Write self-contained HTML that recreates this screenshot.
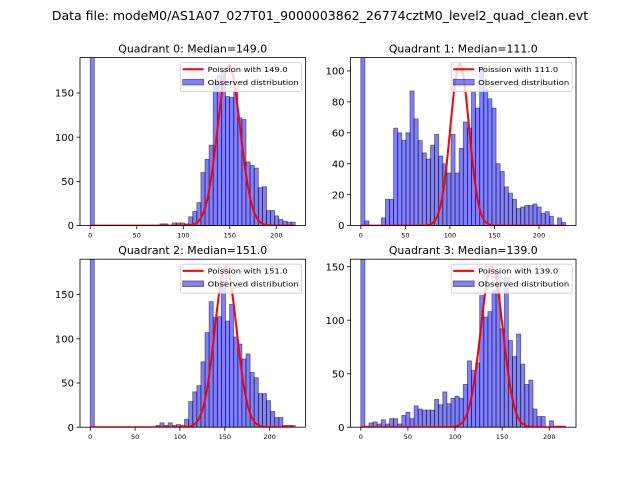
<!DOCTYPE html>
<html><head><meta charset="utf-8"><style>
body{margin:0;background:#fff}
svg{display:block;font-family:"DejaVu Sans","Liberation Sans",sans-serif}
</style></head><body>
<svg id="fig" width="640" height="480" viewBox="0 0 640 480">
<text x="320" y="20" text-anchor="middle" font-size="12.5">Data file: modeM0/AS1A07_027T01_9000003862_26774cztM0_level2_quad_clean.evt</text>
</svg>
<script>
const medians=[149.0,111.0,151.0,139.0];
const binWidths=[4.406,4.6,4.57,4.35];
const counts0=[400,0,0,0,0,0,0,0,0,0,0,0,0,0,0,0,0,2,2,0,3,3,3,2,10,16,26,60,75,91,161,170,175,146,145,155,122,120,72,68,65,43,44,17,17,11,7,5,4,4];
const counts1=[300,3,0,0,0,5,17,17,63,60,55,60,87,69,55,47,43,52,59,45,40,34,59,34,50,67,63,86,76,102,88,82,76,40,35,25,21,17,11,12,13,13,14,12,8,9,6,0,5,2];
const counts2=[400,0,0,0,0,0,0,0,0,0,0,0,0,0,0,0,2,5,2,5,2,3,2,9,29,40,47,74,107,142,124,125,165,120,139,102,94,77,83,62,56,38,38,30,18,11,11,2,2,2];
const counts3=[300,1,4,5,3,7,3,8,8,3,11,14,8,20,17,16,16,16,26,21,33,22,27,29,27,40,62,53,60,123,103,108,128,145,92,140,81,66,87,59,40,44,17,10,10,0,6,1,1,1];
const poissonPeaks=[181,104.5,181,150];
const yMaxes=[190,108.6,190,157];
const yTicks0=[0,50,100,150];
const yTicks1=[0,20,40,60,80,100];
const yTicks2=[0,50,100,150];
const yTicks3=[0,50,100,150];
const xTicks=[0,50,100,150,200];
const allCounts=[counts0,counts1,counts2,counts3];
const allYTicks=[yTicks0,yTicks1,yTicks2,yTicks3];

const NS="http://www.w3.org/2000/svg";
const svg=document.getElementById('fig');
function mk(tag,attrs,parent){const e=document.createElementNS(NS,tag);for(const k in attrs)e.setAttribute(k,attrs[k]);(parent||svg).appendChild(e);return e;}
const W=225.45,H=168;
const boxes=[[80,57.6],[350.55,57.6],[80,259.2],[350.55,259.2]];
for(let q=0;q<4;q++){
  const [L,T]=boxes[q];
  const c=allCounts[q],bw=binWidths[q],R=c.length*bw;
  const x0=-0.05*R,x1=1.05*R,ymax=yMaxes[q];
  const X=v=>L+(v-x0)/(x1-x0)*W;
  const Y=v=>T+H-v/ymax*H;
  const g=mk('g',{});
  
  
  const cp=mk('clipPath',{id:'cp'+q},g);
  mk('rect',{x:L,y:T,width:W,height:H},cp);
  const bars=mk('g',{'clip-path':'url(#cp'+q+')'},g);
  c.forEach((v,i)=>{
    if(v<=0)return;
    const r=mk('rect',{x:X(i*bw),y:Y(v),width:X((i+1)*bw)-X(i*bw),height:Y(0)-Y(v),fill:'rgba(0,0,255,0.5)',stroke:'rgba(0,0,0,0.5)','stroke-width':0.8},bars);
    
    
  });
  const lam=medians[q],pk=poissonPeaks[q],sd=Math.sqrt(lam);
  let d='';const xe=R-1;
  for(let x=0;x<=xe;x+=1){const v=pk*Math.exp(-(x-lam)*(x-lam)/(2*sd*sd));d+=(x?'L':'M')+X(x).toFixed(2)+','+Y(v).toFixed(2);}
  const pl=mk('path',{d:d,fill:'none',stroke:'#ff0000','stroke-width':2,'clip-path':'url(#cp'+q+')'},g);
  
  
  mk('rect',{x:L,y:T,width:W,height:H,fill:'none',stroke:'#000','stroke-width':0.8},g);
  xTicks.forEach(t=>{
    mk('line',{x1:X(t),x2:X(t),y1:T+H,y2:T+H+3.5,stroke:'#000','stroke-width':0.8},g);
    const tx=mk('text',{x:X(t),y:T+H+12,'text-anchor':'middle','font-size':6.5},g);tx.textContent=t;
    
    
  });
  allYTicks[q].forEach(t=>{
    mk('line',{x1:L-3.5,x2:L,y1:Y(t),y2:Y(t),stroke:'#000','stroke-width':0.8},g);
    const tx=mk('text',{x:L-6,y:Y(t)+3.6,'text-anchor':'end','font-size':10},g);tx.textContent=t;
    
    
  });
  const tt=mk('text',{x:L+W/2,y:T-5,'text-anchor':'middle','font-size':10.9},g);
  tt.textContent='Quadrant '+q+': Median='+lam.toFixed(1);
  
  
  const lg=mk('g',{},g);
  
  
  const lx=L+W-124.8,ly=T+5;
  mk('rect',{x:lx,y:ly,width:121,height:29,rx:2,fill:'rgba(255,255,255,0.8)',stroke:'#ccc','stroke-width':0.8},lg);
  mk('line',{x1:lx+2,x2:lx+23,y1:ly+6.7,y2:ly+6.7,stroke:'#ff0000','stroke-width':2},lg);
  const t1=mk('text',{x:lx+27,y:ly+9.5,'font-size':7.2,textLength:80,lengthAdjust:'spacingAndGlyphs'},lg);t1.textContent='Poission with '+lam.toFixed(1);
  
  
  mk('rect',{x:lx+2,y:ly+16.7,width:21,height:5.7,fill:'rgba(0,0,255,0.5)',stroke:'rgba(0,0,0,0.5)','stroke-width':0.8},lg);
  const t2=mk('text',{x:lx+27,y:ly+22.5,'font-size':7.2,textLength:91,lengthAdjust:'spacingAndGlyphs'},lg);t2.textContent='Observed distribution';
  
  
}
</script>
</body></html>
